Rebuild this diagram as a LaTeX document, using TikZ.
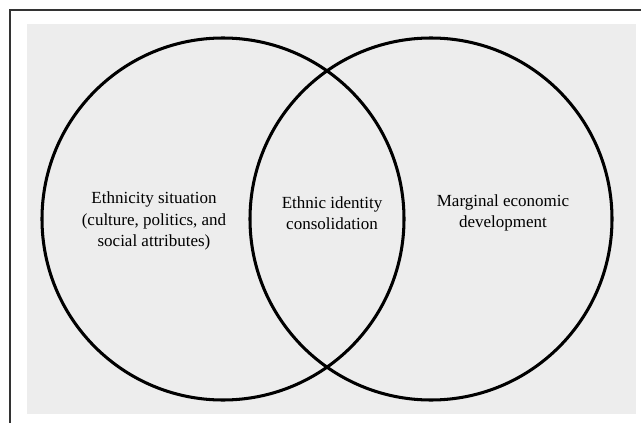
\documentclass[tikz,border=0pt]{standalone}
\usepackage{fontspec}
\setmainfont{Liberation Serif}
\begin{document}
\begin{tikzpicture}[x=0.03cm, y=0.03cm]
\tikzstyle{every node}+=[inner sep=0pt, align=center, font=\fontsize{14.5}{18}\selectfont]
\tikzstyle{ring}=[black, line width=2.6pt]
\useasboundingbox (0,0) rectangle (641,-423);
\fill [white] (0,0) rectangle (641,-423);
\draw [black!80, line width=1.2pt] (10,-423) -- (10,-10) -- (641,-10);
\fill [black!7] (27,-24) rectangle (636,-414);
\draw [ring] (223,-219) circle (181);
\draw [ring] (431,-219) circle (181);
\node (situation) at (154,-221) {Ethnicity situation\\(culture, politics, and\\social attributes)};
\node (identity) at (332,-213) {Ethnic identity\\consolidation};
\node (economic) at (503,-213) {Marginal economic\\development};
\end{tikzpicture}
\end{document}
